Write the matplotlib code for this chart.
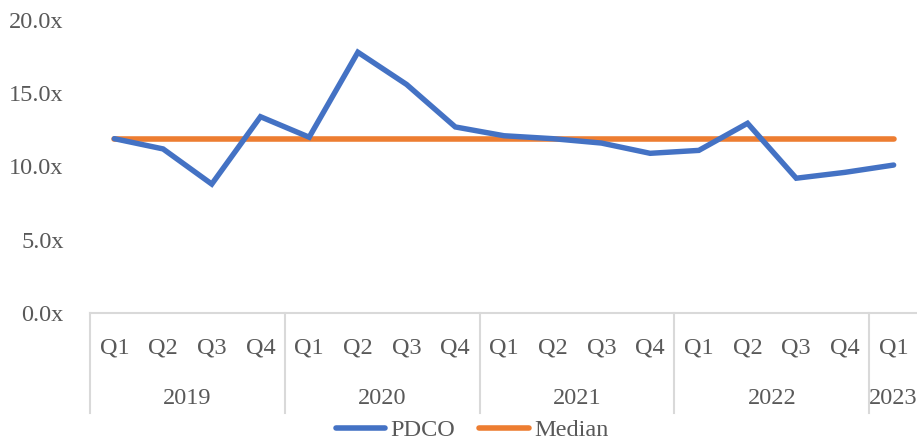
import matplotlib
matplotlib.use("Agg")
import matplotlib.pyplot as plt
from matplotlib.transforms import blended_transform_factory
from matplotlib.lines import Line2D

# Quarterly P/E multiples
years = ["2019", "2020", "2021", "2022", "2023"]
quarters_per_year = [4, 4, 4, 4, 1]
quarter_labels = ["Q1", "Q2", "Q3", "Q4",
                  "Q1", "Q2", "Q3", "Q4",
                  "Q1", "Q2", "Q3", "Q4",
                  "Q1", "Q2", "Q3", "Q4",
                  "Q1"]
pdco = [11.9, 11.2, 8.8, 13.4,
        12.0, 17.8, 15.6, 12.7,
        12.1, 11.9, 11.6, 10.9,
        11.1, 12.95, 9.2, 9.6,
        10.1]
median = [11.9] * len(pdco)
yticks = [0, 5, 10, 15, 20]

BLUE = "#4472C4"
ORANGE = "#ED7D31"
TEXT = "#595959"
RULE = "#D9D9D9"
FONT = "Liberation Serif"
FS = 17.5

W, H = 917, 442
fig = plt.figure(figsize=(W / 100, H / 100), dpi=100)
plt.rcParams["font.family"] = [FONT, "DejaVu Serif"]

left, right = 90 / W, 918 / W
bottom, top = (H - 313) / H, (H - 20) / H
ax = fig.add_axes([left, bottom, right - left, top - bottom])

x = list(range(len(pdco)))
ax.plot(x, pdco, color=BLUE, lw=3.9, solid_capstyle="round",
        solid_joinstyle="miter", zorder=3, clip_on=False)
ax.plot(x, median, color=ORANGE, lw=4.0, solid_capstyle="round", zorder=2,
        clip_on=False)

ax.set_xlim(-0.5, len(pdco) - 0.5)
ax.set_ylim(0, 20)
ax.set_yticks(yticks)
ax.set_yticklabels([f"{v:.1f}x" for v in yticks], fontsize=FS, color=TEXT)
ax.tick_params(axis="y", length=0, pad=19)
ax.set_xticks([])
for s in ["top", "right", "left"]:
    ax.spines[s].set_visible(False)
ax.spines["bottom"].set_color(RULE)
ax.spines["bottom"].set_linewidth(1.5)

# Two-level category axis: quarters above, years below, with dividers
tr = blended_transform_factory(ax.transData, fig.transFigure)
y_top = (H - 313) / H
y_bot = (H - 413) / H
y_q = (H - 348) / H
y_year = (H - 399) / H

for xi, lab in zip(x, quarter_labels):
    fig.text(xi, y_q, lab, transform=tr, fontsize=FS, color=TEXT,
             ha="center", va="center")

start = 0
bounds = [-0.5]
for yr, n in zip(years, quarters_per_year):
    center = start + (n - 1) / 2
    fig.text(center, y_year, yr, transform=tr, fontsize=FS, color=TEXT,
             ha="center", va="center")
    start += n
    bounds.append(start - 0.5)

for b in bounds[:-1]:
    fig.add_artist(Line2D([b, b], [y_top, y_bot], transform=tr,
                          color=RULE, lw=1.5))

handles = [Line2D([], [], color=BLUE, lw=4.0, solid_capstyle="round"),
           Line2D([], [], color=ORANGE, lw=4.0, solid_capstyle="round")]
leg = fig.legend(handles, ["PDCO", "Median"], loc="center",
                 bbox_to_anchor=(472 / W, (H - 430) / H), ncol=2,
                 frameon=False, fontsize=FS, handlelength=2.05,
                 handletextpad=0.2, columnspacing=1.0, borderpad=0)
for t in leg.get_texts():
    t.set_color(TEXT)

fig.savefig("out.png", dpi=100)
